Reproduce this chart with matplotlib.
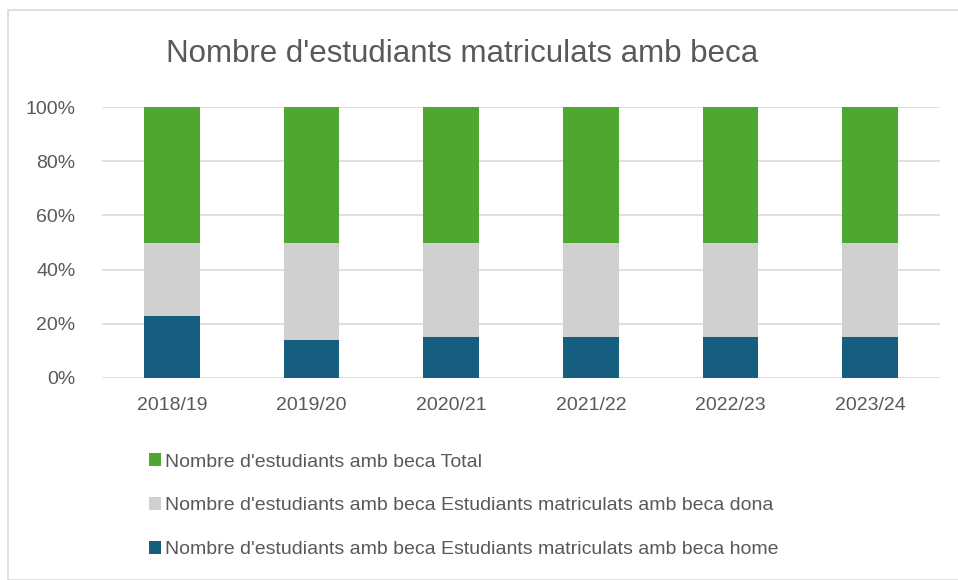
import matplotlib.pyplot as plt
from matplotlib.patches import Rectangle
import numpy as np

plt.rcParams["font.family"] = ["Liberation Sans Narrow", "Liberation Sans", "DejaVu Sans"]

years = ["2018/19", "2019/20", "2020/21", "2021/22", "2022/23", "2023/24"]
home = [23, 14, 15, 15, 15, 15]
dona = [27, 36, 35, 35, 35, 35]
total = [50, 50, 50, 50, 50, 50]
labels = [
    "Nombre d'estudiants amb beca Estudiants matriculats amb beca home",
    "Nombre d'estudiants amb beca Estudiants matriculats amb beca dona",
    "Nombre d'estudiants amb beca Total",
]
colors = ["#165E80", "#D0D0D0", "#4EA72E"]
text_col = "#595959"

W, H = 958, 580
fig = plt.figure(figsize=(W / 100, H / 100), dpi=100)
fig.patches.append(Rectangle((8 / W, 0), 1.0, 1 - 10 / H, transform=fig.transFigure,
                             fill=False, edgecolor="#D9D9D9", lw=1.2))

ax = fig.add_axes([102 / W, 1 - 378 / H, (940 - 102) / W, (378 - 107) / H])

x = np.arange(len(years))
series = np.array([home, dona, total], dtype=float)
shares = series / series.sum(axis=0) * 100
bottom = np.zeros(len(years))
handles = []
for vals, c, lab in zip(shares, colors, labels):
    b = ax.bar(x, vals, bottom=bottom, width=0.4, color=c, label=lab, zorder=3)
    handles.append(b)
    bottom += vals

ax.set_xlim(-0.5, len(years) - 0.5)
ax.set_ylim(0, 100)
ax.set_yticks(range(0, 101, 20))
ax.set_yticklabels([f"{v}%" for v in range(0, 101, 20)])
ax.set_xticks(x)
ax.set_xticklabels(years)
ax.tick_params(axis="both", length=0, labelsize=14, labelcolor=text_col)
ax.tick_params(axis="y", pad=19)
ax.tick_params(axis="x", pad=14)
ax.grid(axis="y", color="#D9D9D9", lw=1.2, zorder=0)
for s in ax.spines.values():
    s.set_visible(False)

fig.text(462 / W, 1 - 54 / H, "Nombre d'estudiants matriculats amb beca",
         ha="center", va="center", fontsize=22.5, color=text_col)

leg = fig.legend(handles[::-1], labels[::-1], loc="upper left",
                 bbox_to_anchor=(131 / W, 1 - 436 / H), frameon=False,
                 fontsize=14, labelcolor=text_col, handlelength=0.65, handleheight=0.65,
                 handletextpad=0.2, labelspacing=1.35)

fig.savefig("out.png", dpi=100)
